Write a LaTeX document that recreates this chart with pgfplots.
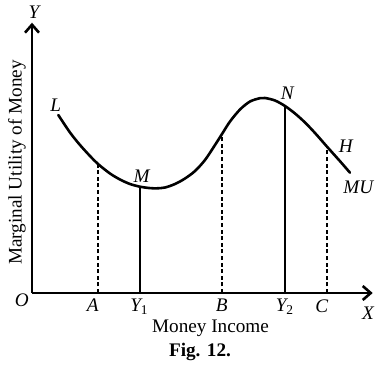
\documentclass[border=0pt]{standalone}
\usepackage{fontspec}
\setmainfont{Liberation Serif}
\usepackage{pgfplots}
\pgfplotsset{compat=1.18}
\usetikzlibrary{arrows.meta}
\begin{document}
\fontsize{9.6}{11}\selectfont
\begin{tikzpicture}
\begin{axis}[
  x=0.5pt, y=0.5pt,
  xmin=32, xmax=372.7, ymin=77, ymax=347.3,
  enlargelimits=false,
  axis lines=left,
  axis line style={line width=1.4pt, -{Straight Barb[length=4pt,width=7pt,line width=1.3pt]}},
  xtick=\empty, ytick=\empty,
  clip=false,
]
\path (axis cs:0,0) rectangle (axis cs:384,370);
% MU curve
\addplot[black, line width=1.3pt, smooth, tension=0.5, line cap=round] coordinates {
(58.3,255) (70,237.5) (80,225) (90,214) (98,206) (110,196.5) (120,190.5)
(130,186) (140,183.3) (150,181.9) (157,181.7) (165,182.5) (175,186)
(185,191.5) (195,199) (205,210) (215,225) (222,236) (230,248.5)
(240,260.5) (250,268.5) (260,271.8) (265,272) (275,269.5) (285,264)
(295,256.5) (305,247.5) (315,237) (327.3,223) (340,208.8) (350,197.3)};
% solid verticals
\addplot[black, line width=1pt] coordinates {(140,77) (140,183.3)};
\addplot[black, line width=1pt] coordinates {(285,77) (285,264)};
% dashed verticals
\addplot[black, line width=1pt, dash pattern=on 2pt off 1.3pt] coordinates {(98,77) (98,206)};
\addplot[black, line width=1pt, dash pattern=on 2pt off 1.3pt] coordinates {(222,77) (222,236)};
\addplot[black, line width=1pt, dash pattern=on 2pt off 1.3pt] coordinates {(327.3,77) (327.3,223)};
% labels
\node at (axis cs:34,357.3) {\itshape Y};
\node at (axis cs:21.7,70) {\itshape O};
\node at (axis cs:368,57) {\itshape X};
\node at (axis cs:92.7,65) {\itshape A};
\node at (axis cs:139.5,63) {\itshape Y\textsubscript{\upshape 1}};
\node at (axis cs:221.7,65) {\itshape B};
\node at (axis cs:285,63) {\itshape Y\textsubscript{\upshape 2}};
\node at (axis cs:321.7,64) {\itshape C};
\node at (axis cs:55.7,265) {\itshape L};
\node at (axis cs:141.7,193.3) {\itshape M};
\node at (axis cs:287.3,276.7) {\itshape N};
\node at (axis cs:345.7,224) {\itshape H};
\node at (axis cs:358.3,182.7) {\itshape MU};
\node at (axis cs:210.5,42) {Money Income};
\node at (axis cs:200,18.3) {\bfseries Fig. 12.};
\node[rotate=90] at (axis cs:17,207.5) {Marginal Utility of Money};
\end{axis}
\end{tikzpicture}
\end{document}
